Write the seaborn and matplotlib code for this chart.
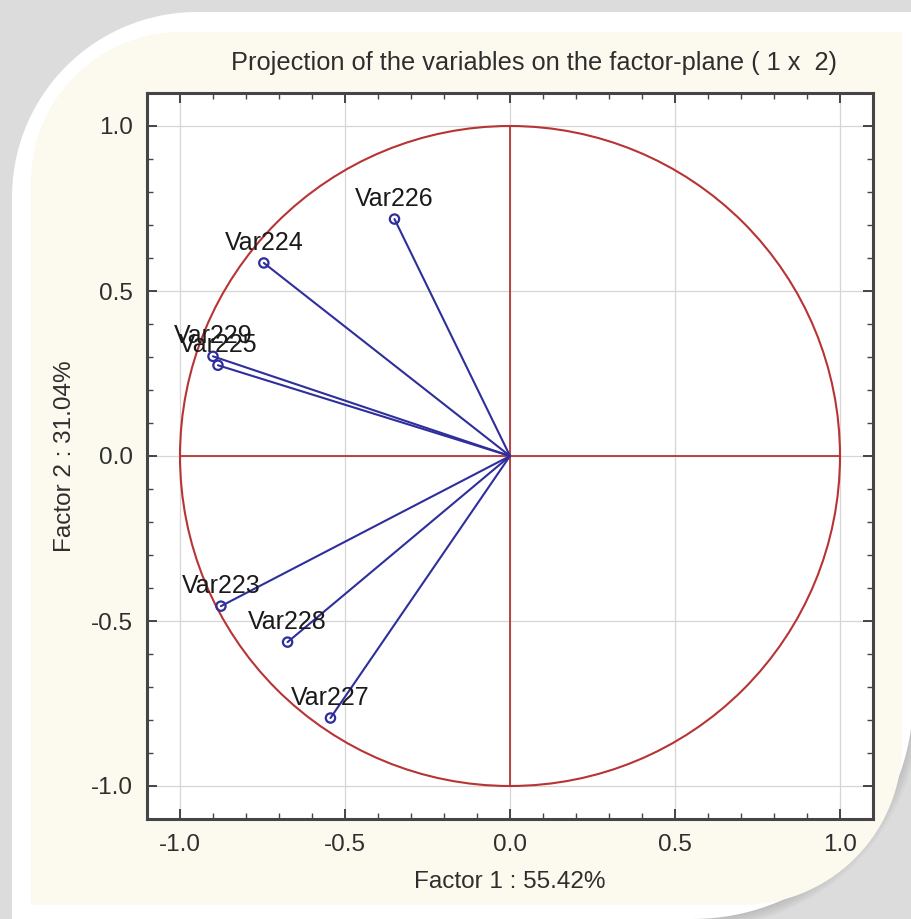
import numpy as np
import matplotlib.pyplot as plt
import seaborn as sns
from matplotlib.path import Path
from matplotlib.patches import PathPatch, Circle
from matplotlib.ticker import MultipleLocator


# loadings of the variables on the first two factors
variables = ['Var223', 'Var224', 'Var225', 'Var226', 'Var227', 'Var228', 'Var229']
factor1 = [-0.876, -0.746, -0.885, -0.350, -0.544, -0.674, -0.900]
factor2 = [-0.455, 0.585, 0.275, 0.718, -0.794, -0.564, 0.302]

title = 'Projection of the variables on the factor-plane ( 1 x  2)'
x_label = 'Factor 1 : 55.42%'
y_label = 'Factor 2 : 31.04%'

W, H = 911, 919
RED = '#b83434'
BLUE = '#2e2e9c'
TXT = '#2e2e2e'


def frame_path(x0, y0, x1, y1, r_tl, r_br):
    # rectangle in image pixels (y down) with rounded top-left and bottom-right corners
    pts = []
    a = np.linspace(np.pi, 1.5 * np.pi, 40)
    cx, cy = x0 + r_tl, y0 + r_tl
    pts += list(zip(cx + r_tl * np.cos(a), cy + r_tl * np.sin(a)))
    pts += [(x1, y0), (x1, y1 - r_br)]
    a = np.linspace(0, 0.5 * np.pi, 40)
    cx, cy = x1 - r_br, y1 - r_br
    pts += list(zip(cx + r_br * np.cos(a), cy + r_br * np.sin(a)))
    pts += [(x0, y1), pts[0]]
    pts = np.array(pts)
    pts[:, 0] = pts[:, 0] / W
    pts[:, 1] = 1 - pts[:, 1] / H
    return Path(pts, closed=True)


def add_background(fig):
    # soft shadow then white border then cream panel
    for k in range(10):
        fig.add_artist(PathPatch(frame_path(12 + k, 12 + k, 911 + k, 919 + k, 185, 220),
                                 transform=fig.transFigure, fc='#9a9a9a', ec='none',
                                 alpha=0.06, zorder=-12))
    fig.add_artist(PathPatch(frame_path(12, 12, 913, 919, 185, 220), transform=fig.transFigure,
                             fc='white', ec='none', zorder=-11))
    fig.add_artist(PathPatch(frame_path(31, 32, 902, 905, 150, 160), transform=fig.transFigure,
                             fc='#fcf9ef', ec='none', zorder=-10))


def main():
    sns.set_style('white')
    plt.rcParams['font.family'] = ['Liberation Sans', 'DejaVu Sans']
    plt.rcParams['axes.unicode_minus'] = False

    fig = plt.figure(figsize=(W / 100, H / 100), dpi=100, facecolor='#dcdcdc')
    add_background(fig)

    ax = fig.add_axes([147 / W, 1 - 819 / H, 726 / W, 726 / H])
    ax.set_facecolor('white')

    ax.set_xlim(-1.1, 1.1)
    ax.set_ylim(-1.1, 1.1)
    ax.xaxis.set_major_locator(MultipleLocator(0.5))
    ax.yaxis.set_major_locator(MultipleLocator(0.5))
    ax.xaxis.set_minor_locator(MultipleLocator(0.1))
    ax.yaxis.set_minor_locator(MultipleLocator(0.1))
    ax.grid(True, which='major', color='#d6d6d6', lw=0.9)
    ax.set_axisbelow(True)

    # unit circle and the two factor axes
    ax.add_patch(Circle((0, 0), 1.0, fill=False, ec=RED, lw=1.5, zorder=2))
    ax.plot([-1, 1], [0, 0], color=RED, lw=1.3, zorder=2)
    ax.plot([0, 0], [-1, 1], color=RED, lw=1.3, zorder=2)

    for fx, fy in zip(factor1, factor2):
        ax.plot([0, fx], [0, fy], color=BLUE, lw=1.5, zorder=3)
    sns.scatterplot(x=factor1, y=factor2, ax=ax, marker='o', s=45, facecolor='none',
                    edgecolor=BLUE, linewidth=1.6, zorder=4, legend=False)

    for name, fx, fy in zip(variables, factor1, factor2):
        ax.annotate(name, (fx, fy), xytext=(0, 6), textcoords='offset points',
                    ha='center', va='bottom', fontsize=18, color='#1a1a1a', zorder=5)

    for side in ax.spines.values():
        side.set_color('#454545')
        side.set_linewidth(2.2)
    ax.tick_params(which='both', direction='in', top=True, right=True, left=True, bottom=True,
                   color='#454545', labelsize=17.5, labelcolor=TXT)
    ax.tick_params(which='major', length=7, width=1.4)
    ax.tick_params(which='minor', length=4, width=1.0)
    ax.tick_params(axis='x', pad=11)
    ax.tick_params(axis='y', pad=10)

    ax.set_xlabel(x_label, fontsize=17.5, color=TXT)
    ax.set_ylabel(y_label, fontsize=17.5, color=TXT)
    ax.xaxis.set_label_coords(0.5, -0.072)
    ax.yaxis.set_label_coords(-0.098, 0.5)

    fig.text(534 / W, 1 - 63 / H, title, ha='center', va='center', fontsize=18.3, color=TXT)

    fig.savefig('out.png', dpi=100, facecolor=fig.get_facecolor())
    plt.close(fig)


if __name__ == '__main__':
    main()
